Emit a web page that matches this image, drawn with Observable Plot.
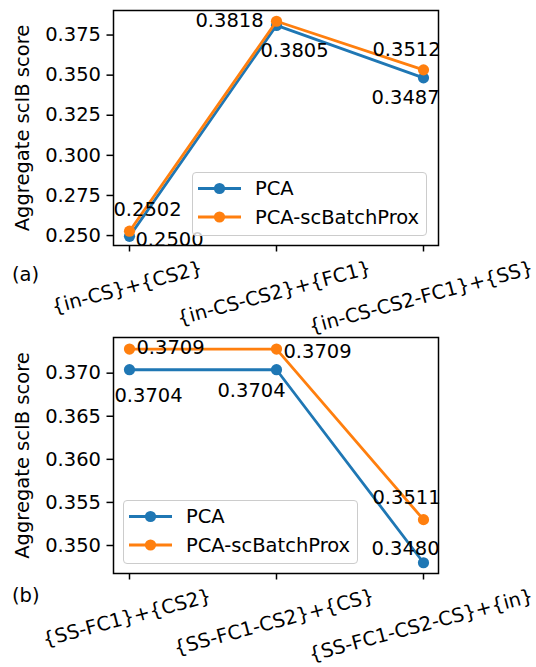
<!DOCTYPE html>
<html><head><meta charset="utf-8">
<script src="https://cdn.jsdelivr.net/npm/d3@7"></script>
<script src="https://cdn.jsdelivr.net/npm/@observablehq/plot@0.6"></script>
<style>
body{margin:0;background:#fff;font-family:"DejaVu Sans",sans-serif;}
#root{position:relative;width:536px;height:667px;overflow:hidden;background:#fff;}
.panel{position:absolute;left:0;}
.legend{position:absolute;box-sizing:border-box;border:1.3px solid #cccccc;border-radius:4px;background:rgba(255,255,255,0.8);}
.legend svg{position:absolute;left:0;top:0;}
.plabel{position:absolute;font-size:19.5px;line-height:22px;color:#000;}
</style></head><body><div id="root"></div>
<script>
// ---- data ----
const methods = ["PCA", "PCA-scBatchProx"];
const colors = ["#1f77b4", "#ff7f0e"];
const yLabel = "Aggregate scIB score";

const catsA = ["{in-CS}+{CS2}", "{in-CS-CS2}+{FC1}", "{in-CS-CS2-FC1}+{SS}"];
const pcaA = [0.2495, 0.3810, 0.3483];
const proxA = [0.2527, 0.3836, 0.3533];
const pcaLabelsA = ["0.2500", "0.3805", "0.3487"];
const proxLabelsA = ["0.2502", "0.3818", "0.3512"];
const ticksA = [0.250, 0.275, 0.300, 0.325, 0.350, 0.375];

const catsB = ["{SS-FC1}+{CS2}", "{SS-FC1-CS2}+{CS}", "{SS-FC1-CS2-CS}+{in}"];
const pcaB = [0.3704, 0.3704, 0.3480];
const proxB = [0.3728, 0.3728, 0.3530];
const pcaLabelsB = ["0.3704", "0.3704", "0.3480"];
const proxLabelsB = ["0.3709", "0.3709", "0.3511"];
const ticksB = [0.350, 0.355, 0.360, 0.365, 0.370];

// ---- layout / style ----
const FS = 19.5;
const ctx = document.createElement("canvas").getContext("2d");
ctx.font = `${FS}px "DejaVu Sans"`;
const rad = 15 * Math.PI / 180;

function makePanel(cfg) {
  const series = [cfg.pca, cfg.prox];
  const labels = [cfg.pcaLabels, cfg.proxLabels];
  const offs = [cfg.pcaOff, cfg.proxOff];
  const marks = [Plot.frame({strokeWidth: 1.5})];
  marks.push(Plot.axisY({ticks: cfg.ticks, tickSize: 6.5, tickPadding: 6, tickFormat: d3.format(".3f"),
    fontSize: FS, strokeWidth: 1.5, label: null}));
  marks.push(Plot.axisX({tickSize: 6.5, strokeWidth: 1.5, tickFormat: () => "", label: null}));
  series.forEach((vals, s) => {
    const rows = cfg.cats.map((c, i) => ({cat: c, v: vals[i], method: methods[s]}));
    marks.push(Plot.line(rows, {x: "cat", y: "v", stroke: "method", strokeWidth: 2.8}));
    marks.push(Plot.dot(rows, {x: "cat", y: "v", fill: "method", r: 5.6}));
  });
  series.forEach((vals, s) => {
    cfg.cats.forEach((c, i) => {
      marks.push(Plot.text([{cat: c, v: vals[i], t: labels[s][i]}], {
        x: "cat", y: "v", text: "t", dx: offs[s][i][0], dy: offs[s][i][1],
        fontSize: FS, fill: "black", textAnchor: "middle", lineAnchor: "middle"}));
    });
  });
  cfg.cats.forEach(c => {
    const w = ctx.measureText(c).width;
    const ext = w * Math.sin(rad) + 1.17 * FS * Math.cos(rad);
    marks.push(Plot.text([c], {x: d => d, text: d => d, frameAnchor: "bottom", dx: -2.5, dy: 11 + ext / 2,
      rotate: -15, fontSize: FS, fill: "black", textAnchor: "middle", lineAnchor: "middle"}));
  });
  marks.push(Plot.text([yLabel], {text: d => d, frameAnchor: "left", rotate: -90, dx: -91,
    fontSize: FS, fill: "black", textAnchor: "middle", lineAnchor: "middle"}));
  return Plot.plot({
    width: 536, height: cfg.height,
    marginTop: cfg.mt, marginBottom: cfg.mb, marginLeft: 113, marginRight: 98,
    style: {fontFamily: '"DejaVu Sans", sans-serif', fontSize: FS + "px", color: "black", background: "transparent", overflow: "visible"},
    x: {type: "point", domain: cfg.cats, inset: 15, padding: 0, axis: null},
    y: {domain: cfg.domain, axis: null},
    color: {domain: methods, range: colors},
    marks
  });
}

function addLegend(root, left, top) {
  const W = 235, H = 64;
  const div = document.createElement("div");
  div.className = "legend";
  Object.assign(div.style, {left: left + "px", top: top + "px", width: W + "px", height: H + "px"});
  const ns = "http://www.w3.org/2000/svg";
  const svg = document.createElementNS(ns, "svg");
  svg.setAttribute("width", W); svg.setAttribute("height", H);
  methods.forEach((m, i) => {
    const y = 15.5 + i * 28.5;
    const ln = document.createElementNS(ns, "line");
    ln.setAttribute("x1", 5); ln.setAttribute("x2", 48); ln.setAttribute("y1", y); ln.setAttribute("y2", y);
    ln.setAttribute("stroke", colors[i]); ln.setAttribute("stroke-width", 2.8);
    svg.appendChild(ln);
    const c = document.createElementNS(ns, "circle");
    c.setAttribute("cx", 26.5); c.setAttribute("cy", y); c.setAttribute("r", 5.6); c.setAttribute("fill", colors[i]);
    svg.appendChild(c);
    const t = document.createElementNS(ns, "text");
    t.setAttribute("x", 62); t.setAttribute("y", y); t.setAttribute("dy", "0.35em");
    t.setAttribute("font-size", FS); t.setAttribute("font-family", '"DejaVu Sans", sans-serif');
    t.textContent = m;
    svg.appendChild(t);
  });
  div.appendChild(svg);
  root.appendChild(div);
}

const root = document.getElementById("root");

const pb = makePanel({cats: catsB, pca: pcaB, prox: proxB, pcaLabels: pcaLabelsB, proxLabels: proxLabelsB,
  ticks: ticksB, domain: [0.34675, 0.37414], height: 337, mt: 7, mb: 94,
  pcaOff: [[19, 26], [-25, 21], [-18, -14]], proxOff: [[41, -1], [41, 3], [-17, -22]]});
pb.classList.add("panel"); pb.style.top = "330px";
root.appendChild(pb);

const pa = makePanel({cats: catsA, pca: pcaA, prox: proxA, pcaLabels: pcaLabelsA, proxLabels: proxLabelsA,
  ticks: ticksA, domain: [0.2438, 0.3903], height: 345, mt: 10, mb: 100,
  pcaOff: [[40, 3], [18, 25], [-18, 20]], proxOff: [[18, -21], [-47, 0], [-17, -20]]});
pa.classList.add("panel"); pa.style.top = "0px";
root.appendChild(pa);

addLegend(root, 192, 172);
addLegend(root, 123, 500);

const la = document.createElement("div"); la.className = "plabel"; la.textContent = "(a)";
Object.assign(la.style, {left: "12px", top: "264px"}); root.appendChild(la);
const lb = document.createElement("div"); lb.className = "plabel"; lb.textContent = "(b)";
Object.assign(lb.style, {left: "12px", top: "585px"}); root.appendChild(lb);
</script></body></html>
